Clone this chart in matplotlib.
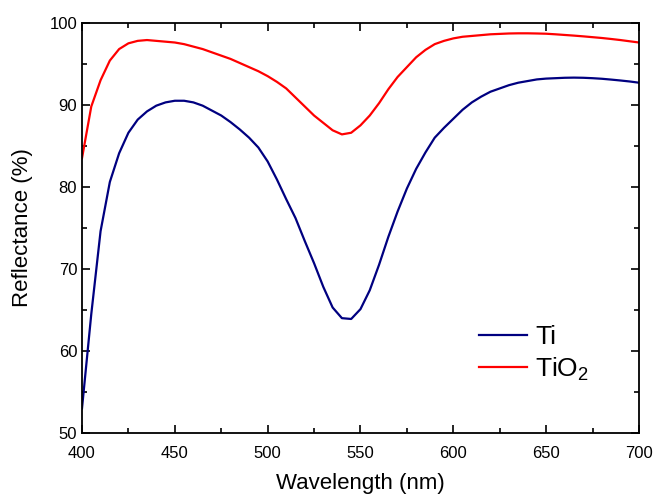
import matplotlib
matplotlib.use("Agg")
import matplotlib.pyplot as plt
from matplotlib.ticker import MultipleLocator

wavelength = list(range(400, 701, 5))
ti = [53.0, 64.5, 74.6, 80.6, 84.1, 86.6, 88.2, 89.2, 89.9, 90.3,
      90.5, 90.5, 90.3, 89.9, 89.3, 88.7, 87.9, 87.0, 86.0, 84.8,
      83.1, 80.9, 78.5, 76.2, 73.4, 70.7, 67.8, 65.3, 64.0, 63.9,
      65.1, 67.4, 70.5, 73.9, 77.0, 79.8, 82.2, 84.2, 86.0, 87.2,
      88.3, 89.4, 90.3, 91.0, 91.6, 92.0, 92.4, 92.7, 92.9, 93.1,
      93.2, 93.25, 93.3, 93.32, 93.3, 93.25, 93.18, 93.08, 92.97, 92.85, 92.7]
tio2 = [83.5, 89.8, 93.0, 95.4, 96.8, 97.5, 97.8, 97.9, 97.8, 97.7,
        97.6, 97.4, 97.1, 96.8, 96.4, 96.0, 95.6, 95.1, 94.6, 94.1,
        93.5, 92.8, 92.0, 90.9, 89.8, 88.7, 87.8, 86.9, 86.4, 86.6,
        87.5, 88.7, 90.2, 91.9, 93.4, 94.6, 95.8, 96.7, 97.4, 97.8,
        98.1, 98.3, 98.4, 98.5, 98.6, 98.65, 98.7, 98.72, 98.72, 98.7,
        98.67, 98.6, 98.52, 98.44, 98.35, 98.25, 98.15, 98.03, 97.9, 97.75, 97.6]

plt.rcParams['font.family'] = ['Liberation Sans', 'DejaVu Sans']
plt.rcParams['mathtext.default'] = 'regular'

fig = plt.figure(figsize=(6.56, 4.96), dpi=100)
ax = fig.add_axes([0.125, 0.127, 0.849, 0.827])

ax.plot(wavelength, ti, color='#000080', lw=1.6, label='Ti')
ax.plot(wavelength, tio2, color='#ff0000', lw=1.6, label='TiO$_2$')

ax.set_xlim(400, 700)
ax.set_ylim(50, 100)
ax.xaxis.set_major_locator(MultipleLocator(50))
ax.xaxis.set_minor_locator(MultipleLocator(25))
ax.yaxis.set_major_locator(MultipleLocator(10))
ax.yaxis.set_minor_locator(MultipleLocator(5))
ax.tick_params(which='both', direction='in', top=True, right=True, width=1.2, labelsize=12)
ax.tick_params(which='major', length=6)
ax.tick_params(which='minor', length=3.5)
ax.tick_params(axis='x', which='major', pad=9)
for s in ax.spines.values():
    s.set_linewidth(1.3)

ax.set_xlabel('Wavelength (nm)', fontsize=16, labelpad=9)
ax.set_ylabel('Reflectance (%)', fontsize=16, labelpad=12)

leg = ax.legend(loc='lower left', bbox_to_anchor=(0.69, 0.09), frameon=False,
                fontsize=19, handlelength=1.8, handletextpad=0.3,
                labelspacing=0.25, borderpad=0)

fig.savefig('out.png', dpi=100)
